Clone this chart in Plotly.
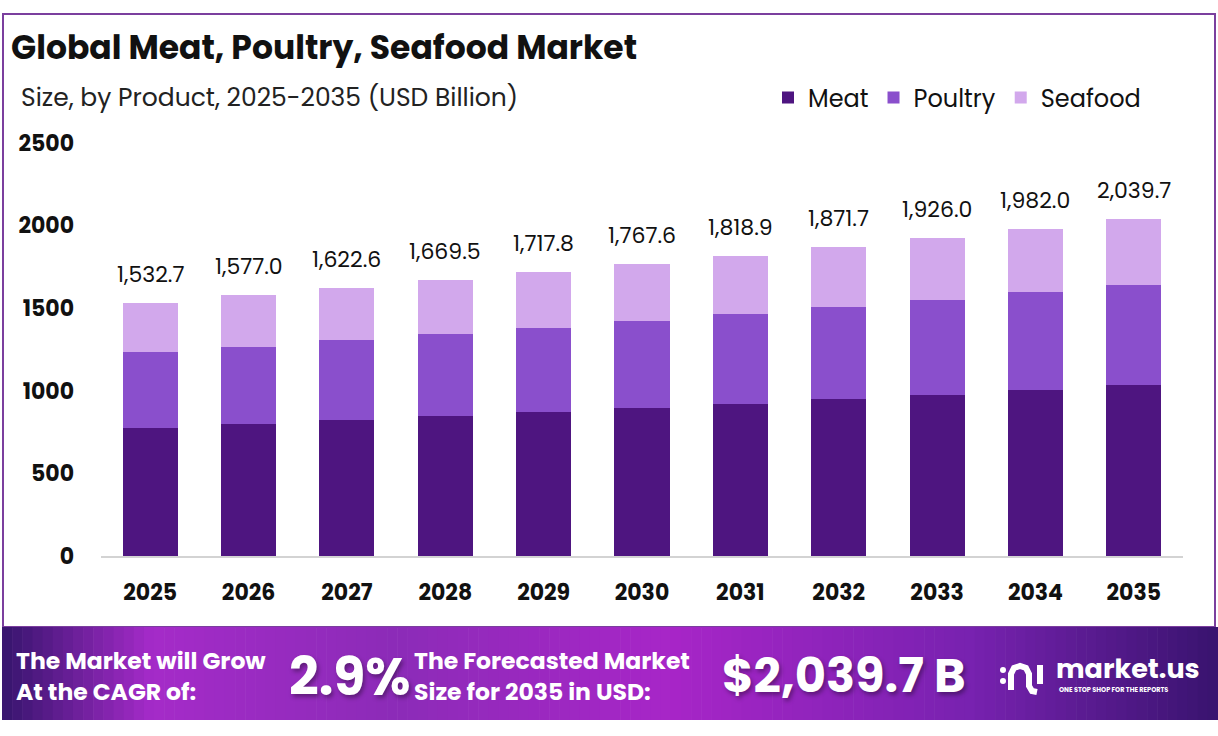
import plotly.graph_objects as go

# data (USD billion)
years = ["2025", "2026", "2027", "2028", "2029", "2030",
         "2031", "2032", "2033", "2034", "2035"]
meat = [777, 799, 823, 849, 872, 896, 920, 950, 975, 1005, 1035]
poultry = [458, 466, 484, 495, 508, 527, 545, 557, 575, 593, 605]
totals = [1532.7, 1577.0, 1622.6, 1669.5, 1717.8, 1767.6,
          1818.9, 1871.7, 1926.0, 1982.0, 2039.7]
seafood = [round(t - m - p, 1) for t, m, p in zip(totals, meat, poultry)]

cagr_text = "2.9%"
size_text = "$2,039.7 B"

W, H = 1218, 736
L, R, T, B = 101, 35, 143, 180
FONT = "Poppins, Inter, sans-serif"


def px(x):
    return (x - L) / (W - L - R)


def py(y):
    return (H - B - y) / (H - T - B)


fig = go.Figure()

colors = {"Meat": "#4e1580", "Poultry": "#8a4fcc", "Seafood": "#d2a8ec"}
for name, vals in [("Meat", meat), ("Poultry", poultry), ("Seafood", seafood)]:
    fig.add_trace(go.Bar(x=years, y=vals, name=name,
                         marker=dict(color=colors[name], line_width=0)))

# total labels; category axis positions are the serial index of each year
for i, t in enumerate(totals):
    fig.add_annotation(x=i, y=t, text=f"{t:,.1f}", showarrow=False,
                       yanchor="bottom", yshift=11,
                       font=dict(family=FONT, size=22, color="#111111"))

shapes = []
# outer frame
shapes.append(dict(type="rect", xref="paper", yref="paper",
                   x0=px(3), x1=px(1215), y0=py(627), y1=py(14),
                   line=dict(color="#7b3f9e", width=2), layer="below"))

# banner gradient built from thin strips
stops = [(0.0, (58, 22, 112)), (0.12, (165, 43, 201)), (0.32, (140, 44, 184)),
         (0.55, (168, 38, 200)), (0.8, (120, 34, 176)), (1.0, (58, 20, 112))]


def grad(f):
    for (a, ca), (b, cb) in zip(stops[:-1], stops[1:]):
        if a <= f <= b:
            k = (f - a) / (b - a)
            c = [int(ca[i] + (cb[i] - ca[i]) * k) for i in range(3)]
            return "rgb(%d,%d,%d)" % tuple(c)
    return "rgb(58,20,112)"


n = 120
x_start, x_end = 2, 1218
step = (x_end - x_start) / n
for i in range(n):
    shapes.append(dict(type="rect", xref="paper", yref="paper",
                       x0=px(x_start + i * step), x1=px(x_start + (i + 1) * step + 0.6),
                       y0=py(720), y1=py(627),
                       fillcolor=grad(i / (n - 1)), line_width=0, layer="below"))


# logo icon
def pth(points):
    return "M " + " L ".join(f"{px(a)},{py(b)}" for a, b in points)


icon = [
    pth([(1011, 690), (1011, 674), (1014, 668), (1020, 666), (1026, 668), (1029, 674), (1029, 686),
         (1032, 691), (1037, 692)]),
    pth([(1040, 665), (1040, 684)]),
]
for p in icon:
    shapes.append(dict(type="path", xref="paper", yref="paper", path=p,
                       line=dict(color="white", width=6)))
for cx, cy in [(1003, 670), (1003, 681)]:
    shapes.append(dict(type="circle", xref="paper", yref="paper",
                       x0=px(cx - 3), x1=px(cx + 3), y0=py(cy + 3), y1=py(cy - 3),
                       fillcolor="white", line_width=0))

fig.update_layout(shapes=shapes)

# header texts
fig.add_annotation(xref="paper", yref="paper", x=px(9), y=py(47), xanchor="left", yanchor="middle",
                   text="<b>Global Meat, Poultry, Seafood Market</b>", showarrow=False,
                   font=dict(family=FONT, size=33, color="#111111"))
fig.add_annotation(xref="paper", yref="paper", x=px(19), y=py(98), xanchor="left", yanchor="middle",
                   text="Size, by Product, 2025-2035 (USD Billion)", showarrow=False,
                   font=dict(family=FONT, size=25, color="#222222"))

# banner texts
white = "#ffffff"
shadow = "2px 3px 4px rgba(0,0,0,0.35)"
banner = [
    (14, 676, "<b>The Market will Grow<br>At the CAGR of:</b>", 23.5),
    (287, 676, f"<b>{cagr_text}</b>", 52),
    (412, 676, "<b>The Forecasted Market<br>Size for 2035 in USD:</b>", 23.5),
    (720, 675, f"<b>{size_text}</b>", 48),
    (1054, 668, "<b>market.us</b>", 27),
    (1057, 689, "<b>ONE STOP SHOP FOR THE REPORTS</b>", 6.5),
]
for x, y, txt, sz in banner:
    fig.add_annotation(xref="paper", yref="paper", x=px(x), y=py(y), xanchor="left", yanchor="middle",
                       text=txt, showarrow=False, align="left",
                       font=dict(family=FONT, size=sz, color=white,
                                 shadow=shadow if sz > 40 else "none"))

fig.update_layout(
    width=W, height=H,
    margin=dict(l=L, r=R, t=T, b=B),
    paper_bgcolor="white", plot_bgcolor="white",
    barmode="stack", bargap=0.44,
    font=dict(family=FONT, color="#111111"),
    legend=dict(orientation="h", x=px(768), y=py(98), xanchor="left", yanchor="middle",
                font=dict(family=FONT, size=24, color="#111111"),
                traceorder="normal", itemwidth=30, bgcolor="rgba(0,0,0,0)"),
    xaxis=dict(type="category", showgrid=False, showline=True, linecolor="#d3d3d3", linewidth=2,
               ticks="", tickfont=dict(family=FONT, size=22, color="#111111", weight="bold"),
               ticklabelstandoff=16, fixedrange=True),
    yaxis=dict(range=[0, 2500], tickvals=[0, 500, 1000, 1500, 2000, 2500],
               showgrid=False, zeroline=False, showline=False, ticks="",
               tickfont=dict(family=FONT, size=22, color="#111111", weight="bold"),
               ticklabelstandoff=26, fixedrange=True),
    showlegend=True,
)

fig.write_html("out.html", config={"displayModeBar": False},
               post_script="document.body.style.margin='0';document.body.style.overflow='hidden';")
